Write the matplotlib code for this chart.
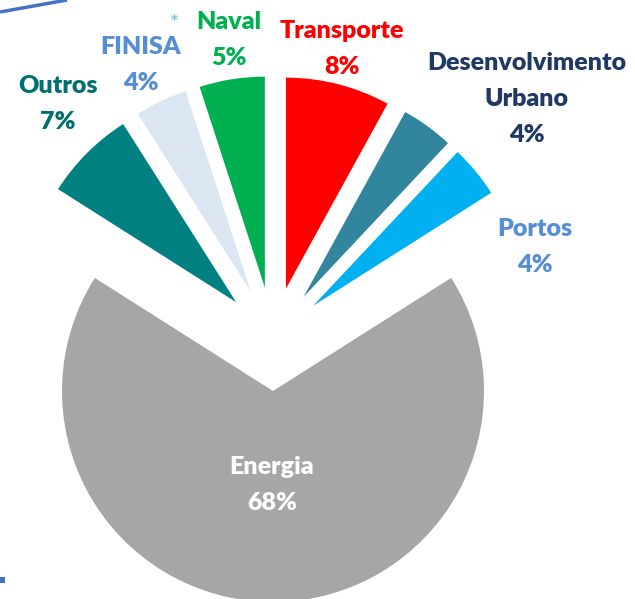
import matplotlib
matplotlib.use("Agg")
import matplotlib.pyplot as plt

# data, clockwise from the top
sectors = ["Transporte", "Desenvolvimento\nUrbano", "Portos", "Energia", "Outros", "FINISA", "Naval"]
shares = [8, 4, 4, 68, 7, 4, 5]
colors = ["#FF0000", "#31859C", "#00B0F0", "#A6A6A6", "#008080", "#DCE6F2", "#00B050"]
text_colors = ["#FF0000", "#1F3864", "#558ED5", "#FFFFFF", "#00706F", "#558ED5", "#00B050"]

# label centres in pixel coords (y from top)
label_pos = [(342, 49), (527, 99), (535, 247), (272, 485), (58, 104), (141, 65), (229, 40)]

W, H = 635, 599
fig = plt.figure(figsize=(W / 100, H / 100), dpi=100)
ax = fig.add_axes([0, 0, 1, 1])

radius = 211
gap = 52  # explode is in data units here
ax.pie(shares, colors=colors, startangle=90, counterclock=False,
       explode=[gap] * len(shares), radius=radius, center=(273, H - 339),
       wedgeprops=dict(linewidth=0), frame=True)
ax.set_xlim(0, W)
ax.set_ylim(0, H)
ax.axis("off")

for name, val, col, (x, y) in zip(sectors, shares, text_colors, label_pos):
    ax.text(x, H - y, f"{name}\n{val}%", color=col, fontsize=18, fontweight="heavy",
            family="Lato", ha="center", va="center", linespacing=1.75)

ax.text(174, H - 24, "*", color="#7FC4CC", fontsize=15, fontweight="bold",
        family="Lato", ha="center", va="center")

# decorative bits of the slide
ax.plot([0, 67], [H - 12, H - 0], color="#4472C4", lw=2.5, solid_capstyle="butt")
ax.add_patch(plt.Rectangle((0, H - 583), 5, 6, color="#4472C4", lw=0))

fig.savefig("out.png", dpi=100)
